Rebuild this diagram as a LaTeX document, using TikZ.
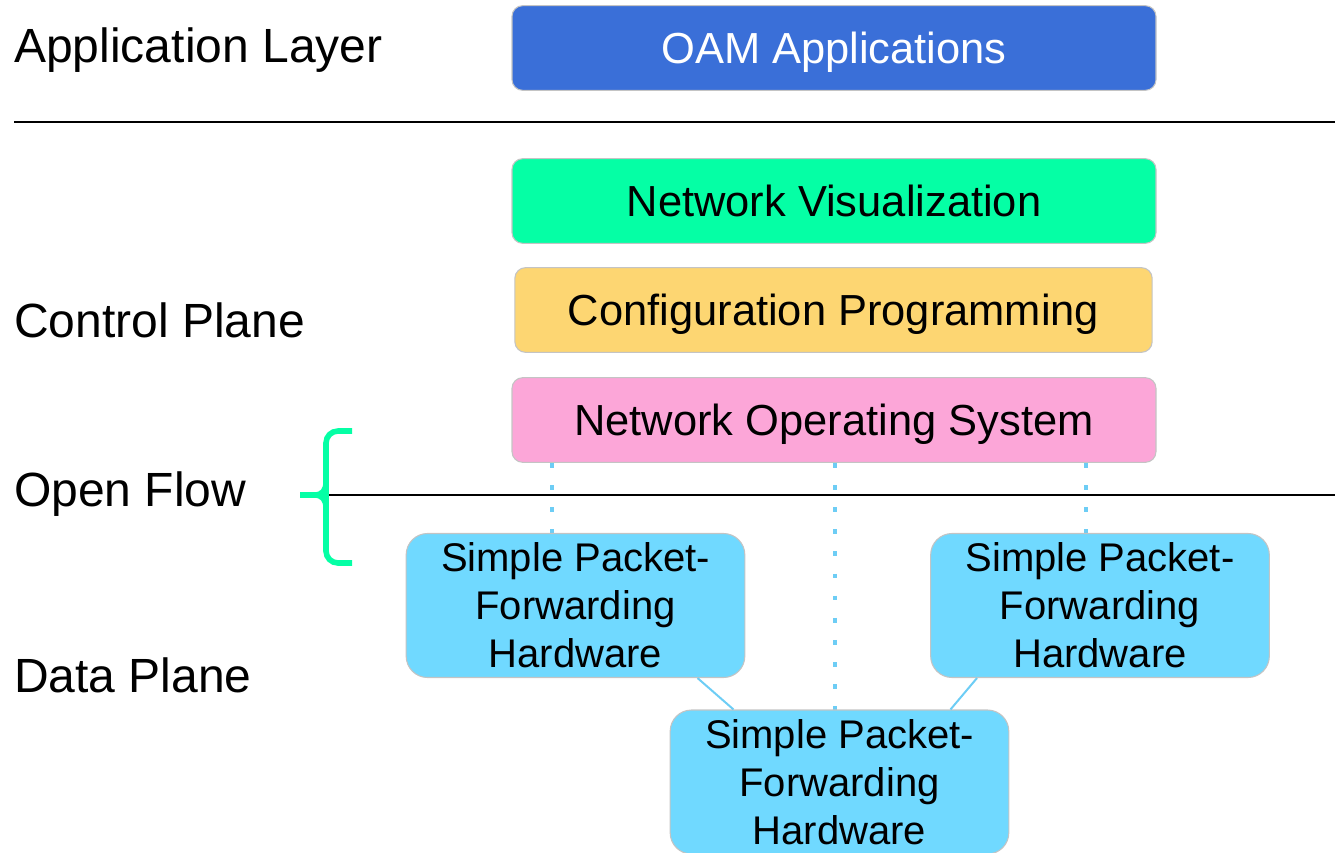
\documentclass[tikz,border=0pt]{standalone}
\usepackage{fontspec}
\setmainfont{Liberation Sans}
\usetikzlibrary{calc}
\definecolor{oamblue}{HTML}{3A6FD8}
\definecolor{visgreen}{HTML}{05FFA5}
\definecolor{cfgyellow}{HTML}{FDD672}
\definecolor{nospink}{HTML}{FCA6D8}
\definecolor{hwblue}{HTML}{70D9FF}
\definecolor{dotblue}{HTML}{6DCDF5}
\definecolor{edgegray}{HTML}{C4C4C4}
\begin{document}
\begin{tikzpicture}[x=0.75pt,y=-0.75pt,
  layerbox/.style={draw=edgegray, line width=0.8pt, rounded corners=8pt,
    minimum width=483pt, minimum height=63.5pt, inner sep=0pt,
    text height=23pt, text depth=-1pt,
    font=\fontsize{32.6}{38}\selectfont},
  hwbox/.style={draw=edgegray, line width=0.8pt, fill=hwblue, rounded corners=16pt,
    minimum width=254pt, minimum height=108pt, inner sep=0pt, align=center,
    font=\fontsize{30}{36}\selectfont},
  sidelabel/.style={anchor=west, inner sep=0pt, font=\fontsize{36}{42}\selectfont},
  dotline/.style={draw=dotblue, line width=3.6pt, dash pattern=on 3.6pt off 13pt},
  hwlink/.style={draw=dotblue, line width=1.5pt},
  rule/.style={draw=black, line width=1.5pt},
  brace/.style={draw=visgreen, line width=4.2pt, line cap=butt}
]
\useasboundingbox (0,0) rectangle (1335,853);

% side labels
\node[sidelabel] (lapp) at (14,50) {Application Layer};
\node[sidelabel] (lctl) at (14,320) {Control Plane};
\node[sidelabel] (lof) at (14,494) {Open Flow};
\node[sidelabel] (ldp) at (14,675) {Data Plane};

% layer boxes
\node[layerbox, fill=oamblue, text=white] (oam) at (834,48) {OAM Applications};
\node[layerbox, fill=visgreen] (vis) at (834,201) {Network Visualization};
\node[layerbox, fill=cfgyellow, minimum width=478pt] (cfg) at (833.5,310) {Configuration Programming};
\node[layerbox, fill=nospink] (nos) at (834,420) {Network Operating System};

% rules
\draw[rule] (14,122) -- (1335,122);

% dotted links
\draw[dotline] (552,0 |- nos.south) -- (552,533);
\draw[dotline] (835,0 |- nos.south) -- (835,710);
\draw[dotline] (1086,0 |- nos.south) -- (1086,533);

% hardware boxes
\node[hwbox] (hwl) at (575.5,605.5) {Simple Packet-\\Forwarding\\Hardware};
\node[hwbox] (hwr) at (1100,605.5) {Simple Packet-\\Forwarding\\Hardware};
\node[hwbox] (hwm) at (839.5,782) {Simple Packet-\\Forwarding\\Hardware};

\draw[hwlink] ($(hwl.south)+(122,0)$) -- ($(hwm.north)+(-106,0)$);
\draw[hwlink] ($(hwr.south)+(-123,0)$) -- ($(hwm.north)+(111,0)$);

% open flow line and brace
\draw[rule] (328,495) -- (1335,495);
\draw[brace, rounded corners=9pt] (352,431) -- (326,431) -- (326,563) -- (352,563);
\draw[brace] (300,495) -- (314,495) .. controls (323,495) and (326,490) .. (326,482);
\draw[brace] (314,495) .. controls (323,495) and (326,500) .. (326,508);
\end{tikzpicture}
\end{document}
